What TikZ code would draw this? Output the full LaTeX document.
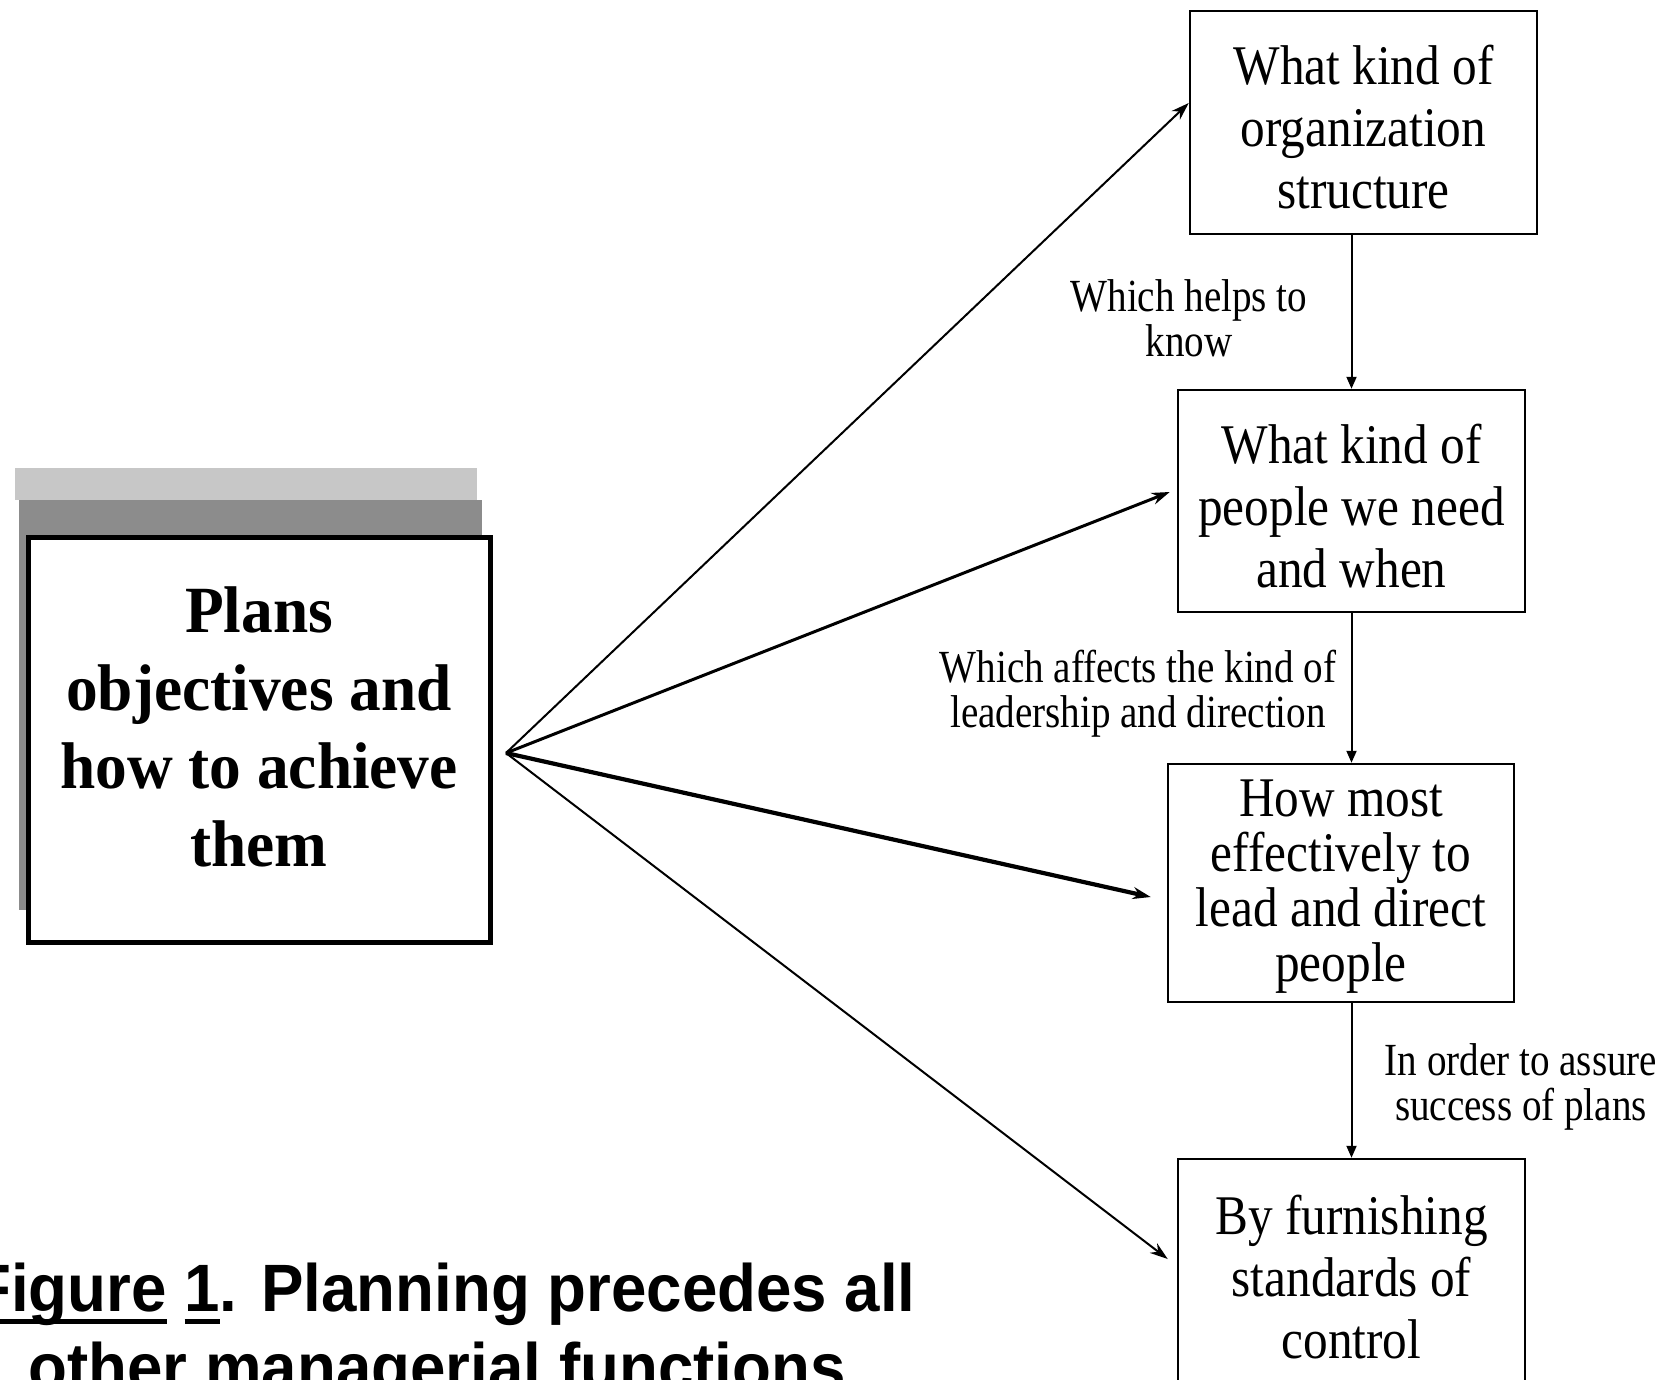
\documentclass[tikz,border=0pt]{standalone}
\usepackage{fontspec}
\setmainfont{Liberation Serif}
\newfontfamily\boxfont[FakeStretch=0.88]{Liberation Serif}
\newfontfamily\planfont[FakeStretch=0.96]{Liberation Serif}
\newfontfamily\labelfont[FakeStretch=0.85]{Liberation Serif}
\newfontfamily\capfont[FakeStretch=0.95]{Liberation Sans}
\usetikzlibrary{arrows.meta,calc}
\newcommand{\myul}[1]{\setbox0=\hbox{#1}\rlap{\rule[-0.19em]{\wd0}{0.07em}}\box0\relax}
\begin{document}
\begin{tikzpicture}[x=1pt,y=-1pt,
  rbox/.style={draw, line width=2.5pt, fill=white, minimum width=347pt, minimum height=223pt,
    inner sep=0pt},
  rtext/.style={inner sep=0pt, align=center, font=\fontsize{56}{62}\boxfont},
  lbl/.style={align=center, inner sep=0pt, font=\fontsize{46}{45}\labelfont},
  fanarrow/.style={-{Stealth[length=18pt,width=12pt]}},
  downarrow/.style={line width=2pt, -{Triangle[length=12pt,width=10pt]}},
  capnode/.style={inner sep=0pt, font=\fontsize{67}{72}\capfont\bfseries}]
\path[use as bounding box] (0,0) rectangle (1669,1379);
\clip (0,0) rectangle (1669,1379);
\fill[white] (0,0) rectangle (1669,1379);
% shadow
\fill[black!22] (15,468) rectangle (477,500);
\fill[black!45] (19,500) rectangle (482,910);
% main box
\node[draw, line width=5pt, fill=white, minimum width=462pt, minimum height=405pt,
  inner sep=0pt] (P) at (259,739.5) {};
\node[inner sep=0pt, align=center, font=\fontsize{66}{78}\planfont\bfseries] (Pt)
  at ($(P.center)+(0,-13)$) {Plans\\objectives and\\how to achieve\\them};
% right boxes
\node[rbox] (A) at (1363.5,122.5) {};
\node[rtext] (At) at ($(A.center)+(0,5)$) {What kind of\\organization\\structure};
\node[rbox, minimum height=222pt] (B) at (1351.5,501) {};
\node[rtext] (Bt) at ($(B.center)+(0,5)$) {What kind of\\people we need\\and when};
\node[rbox, minimum width=346pt, minimum height=238pt] (C) at (1341,883) {};
\node[rtext, font=\fontsize{56}{55}\boxfont] (Ct) at ($(C.center)+(0,4)$)
  {How most\\effectively to\\lead and direct\\people};
\node[rbox] (D) at (1351.5,1270.5) {};
\node[rtext] (Dt) at ($(D.center)+(0,7)$) {By furnishing\\standards of\\control};
% fan arrows
\coordinate (fan) at (506,753);
\draw[fanarrow, line width=2pt] (fan) -- ($(A.west)+(0,-19.5)$);
\draw[fanarrow, line width=3pt] (fan) -- ($(B.west)+(-7,-9)$);
\draw[fanarrow, line width=4.2pt] (fan) -- ($(C.west)+(-16,14)$);
\draw[fanarrow, line width=2pt] (fan) -- ($(D.west)+(-9,-11.5)$);
% vertical arrows
\draw[downarrow] (B.north |- A.south) -- (B.north);
\draw[downarrow] (B.south) -- (B.south |- C.north);
\draw[downarrow] (D.north |- C.south) -- (D.north);
% labels
\node[lbl] (l1) at (1189,318) {Which helps to\\know};
\node[lbl] (l2) at (1138,694) {Which affects the kind of\\leadership and direction};
\node[lbl] (l3) at (1521,1087) {In order to assure\\success of plans};
% caption
\node[capnode, anchor=base] (cap1) at (444,1311) {\myul{Figure} \myul{1}. Planning precedes all};
\node[capnode, anchor=base] (cap2) at (437,1390) {other managerial functions};
\end{tikzpicture}
\end{document}
